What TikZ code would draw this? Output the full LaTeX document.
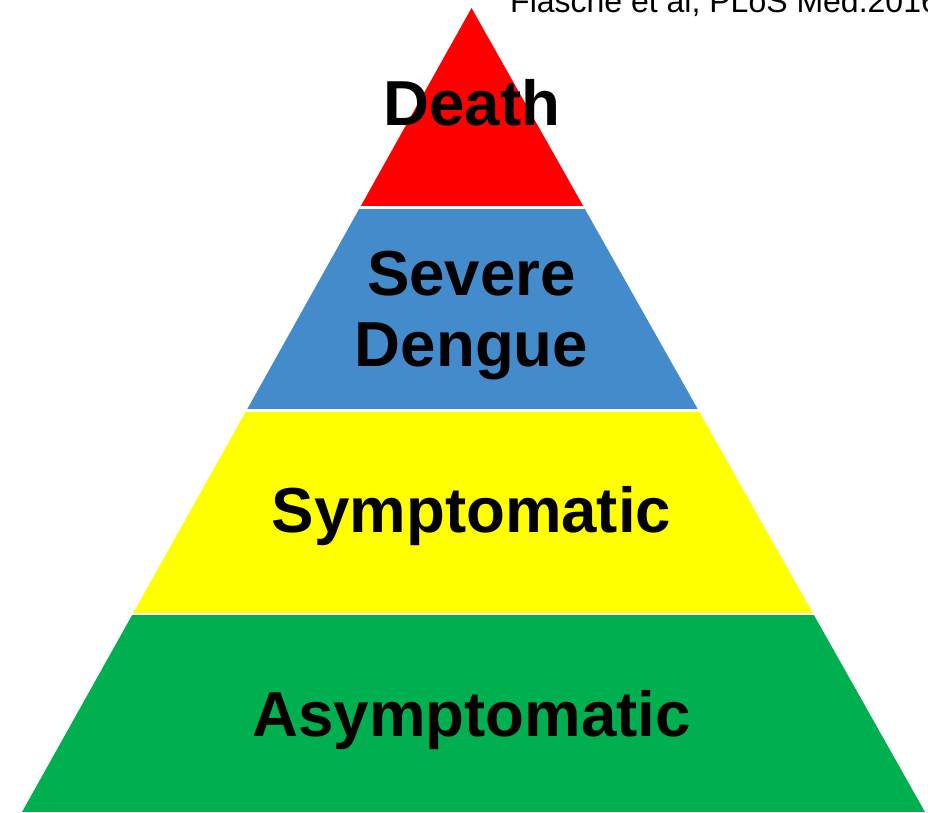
\documentclass[tikz,border=0pt]{standalone}
\usepackage{fontspec}
\setmainfont{Liberation Sans}
\definecolor{pyred}{HTML}{FF0000}
\definecolor{pyblue}{HTML}{448BCC}
\definecolor{pyyellow}{HTML}{FFFF00}
\definecolor{pygreen}{HTML}{00AF50}
\tikzset{
  label63/.style={inner sep=0pt, font=\bfseries\fontsize{63.6}{71}\selectfont, text=black, align=center},
  citetext/.style={inner sep=0pt, font=\fontsize{32}{36}\selectfont, text=black, anchor=base west}
}
\begin{document}
\begin{tikzpicture}[x=1pt,y=-1pt]
\useasboundingbox (0,0) rectangle (928,812);
\begin{scope}
  \clip (0,0) rectangle (928,812);
  \node[citetext] (cite) at (510,12) {Flasche et al, PLoS Med.2016};
\end{scope}
\begin{scope}
  \clip (471.5,8) -- (22,812) -- (925,812) -- cycle;
  \fill[pyred] (0,0) rectangle (928,206);
  \fill[pyblue] (0,208.8) rectangle (928,409.3);
  \fill[pyyellow] (0,411.8) rectangle (928,612.5);
  \fill[pygreen] (0,615.3) rectangle (928,812);
\end{scope}
\node[label63, anchor=base] (death) at (472,125) {Death};
\node[label63, anchor=north] (severe) at (471.5,251) {Severe\\Dengue};
\node[label63, anchor=base] (symp) at (471.5,532) {Symptomatic};
\node[label63, anchor=base] (asymp) at (471.5,736) {Asymptomatic};
\end{tikzpicture}
\end{document}
